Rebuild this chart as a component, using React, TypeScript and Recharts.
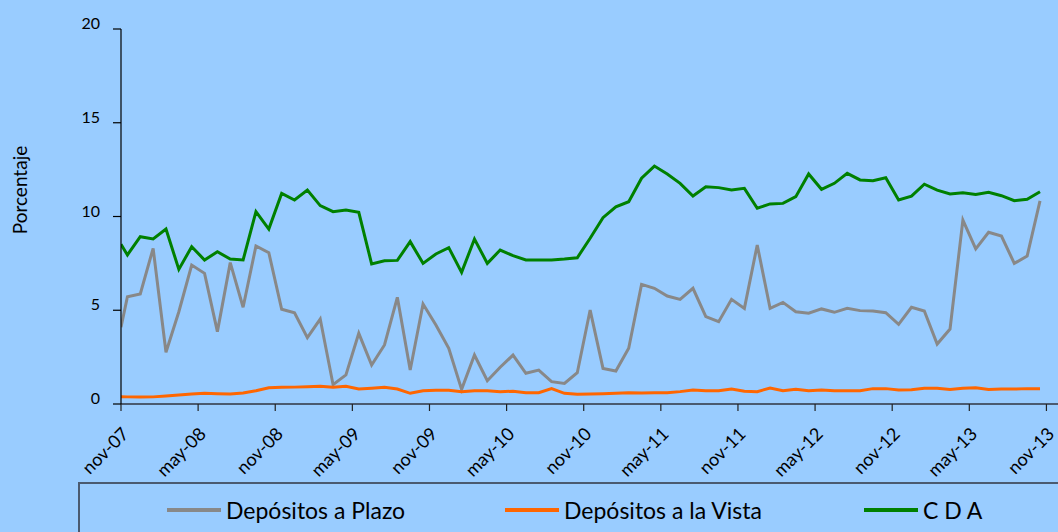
import React from "react";
import { LineChart, Line, XAxis, YAxis } from "recharts";

// Tasas mensuales (%), nov-07 a nov-13
const plazo = [
  4.1, 5.72, 5.87, 8.3, 2.76, 4.92, 7.41, 6.97, 3.86, 7.54, 5.16, 8.43, 8.07,
  5.05, 4.87, 3.54, 4.53, 1.03, 1.55, 3.77, 2.08, 3.15, 5.69, 1.81, 5.33, 4.21,
  2.97, 0.78, 2.61, 1.24, 1.96, 2.61, 1.64, 1.81, 1.19, 1.1, 1.67, 5.01, 1.9,
  1.76, 2.97, 6.38, 6.17, 5.76, 5.58, 6.17, 4.66, 4.39, 5.58, 5.1, 8.48, 5.1,
  5.42, 4.92, 4.84, 5.07, 4.89, 5.1, 4.98, 4.96, 4.87, 4.25, 5.16, 4.96, 3.2,
  4.0, 9.81, 8.27, 9.16, 8.96, 7.5, 7.89, 10.83,
];

const vista = [
  0.39, 0.38, 0.37, 0.38, 0.43, 0.48, 0.53, 0.57, 0.55, 0.53, 0.59, 0.71, 0.87,
  0.89, 0.9, 0.92, 0.94, 0.9, 0.94, 0.8, 0.84, 0.89, 0.8, 0.57, 0.71, 0.73,
  0.73, 0.66, 0.71, 0.71, 0.66, 0.68, 0.6, 0.6, 0.82, 0.57, 0.52, 0.53, 0.55,
  0.57, 0.6, 0.59, 0.6, 0.6, 0.66, 0.75, 0.71, 0.71, 0.8, 0.68, 0.66, 0.85,
  0.71, 0.78, 0.71, 0.75, 0.71, 0.71, 0.71, 0.82, 0.82, 0.75, 0.76, 0.84, 0.84,
  0.78, 0.84, 0.87, 0.78, 0.8, 0.8, 0.82, 0.82,
];

const cda = [
  8.52, 7.95, 8.92, 8.8, 9.33, 7.18, 8.39, 7.68, 8.12, 7.73, 7.68, 10.26, 9.33,
  11.23, 10.88, 11.41, 10.58, 10.26, 10.35, 10.22, 7.47, 7.64, 7.66, 8.66, 7.5,
  8.0, 8.34, 7.02, 8.8, 7.5, 8.21, 7.91, 7.68, 7.68, 7.68, 7.73, 7.8, 8.84,
  9.94, 10.52, 10.79, 12.04, 12.69, 12.27, 11.77, 11.09, 11.59, 11.54, 11.41,
  11.5, 10.44, 10.67, 10.7, 11.06, 12.27, 11.45, 11.77, 12.3, 11.95, 11.91,
  12.07, 10.88, 11.09, 11.72, 11.41, 11.2, 11.27, 11.18, 11.29, 11.11, 10.84,
  10.92, 11.32,
];

const tickLabels = [
  "nov-07", "may-08", "nov-08", "may-09", "nov-09", "may-10", "nov-10",
  "may-11", "nov-11", "may-12", "nov-12", "may-13", "nov-13",
];
const xTicks = [0, 6, 12, 18, 24, 30, 36, 42, 48, 54, 60, 66, 72];
const yTicks = [0, 5, 10, 15, 20];

const series = [
  { key: "plazo", name: "Depósitos a Plazo", color: "#888888" },
  { key: "vista", name: "Depósitos a la Vista", color: "#FF6600" },
  { key: "cda", name: "C D A", color: "#008000" },
];

// first observation sits on the axis, the rest mid-month
const data = plazo.map((v, i) => ({
  t: i === 0 ? 0 : i - 0.5,
  plazo: v,
  vista: vista[i],
  cda: cda[i],
}));

const FONT = "Lato, 'Open Sans', sans-serif";

const XTick = (props: any) => {
  const { x, y, payload } = props;
  const idx = xTicks.indexOf(payload.value);
  const ax = x + 9;
  const ay = y + 22;
  return (
    <text
      x={ax}
      y={ay}
      transform={`rotate(-45, ${ax}, ${ay})`}
      textAnchor="end"
      fontSize={18}
      fontFamily={FONT}
      fill="#000"
    >
      {tickLabels[idx]}
    </text>
  );
};

const YTick = (props: any) => {
  const { x, y, payload } = props;
  return (
    <text x={x} y={y} textAnchor="end" fontSize={16} fontFamily={FONT} fill="#000">
      {payload.value}
    </text>
  );
};

export default function App() {
  const legendLefts = [167, 505, 864];
  return (
    <div
      style={{
        position: "absolute",
        left: 0,
        top: 0,
        width: 1058,
        height: 532,
        background: "#99CCFF",
        overflow: "hidden",
      }}
    >
      <LineChart
        width={1058}
        height={532}
        data={data}
        margin={{ top: 29, right: 0, bottom: 0, left: 0 }}
      >
        <XAxis
          dataKey="t"
          type="number"
          domain={[0, 72.9]}
          ticks={xTicks}
          allowDataOverflow
          height={128}
          tick={<XTick />}
          tickSize={7}
          axisLine={{ stroke: "#4a5a70", strokeWidth: 2 }}
          tickLine={{ stroke: "#222", strokeWidth: 1.2 }}
        />
        <YAxis
          type="number"
          domain={[0, 20]}
          ticks={yTicks}
          width={121}
          tick={<YTick />}
          tickSize={8}
          tickMargin={13}
          axisLine={{ stroke: "#000", strokeWidth: 1.2 }}
          tickLine={{ stroke: "#000", strokeWidth: 1.2 }}
          label={{
            content: () => (
              <text
                x={27}
                y={190}
                transform="rotate(-90, 27, 190)"
                textAnchor="middle"
                fontSize={19}
                fontFamily={FONT}
                fill="#000"
              >
                Porcentaje
              </text>
            ),
          }}
        />
        {series.map((s) => (
          <Line
            key={s.key}
            dataKey={s.key}
            name={s.name}
            type="linear"
            stroke={s.color}
            strokeWidth={3}
            dot={false}
            activeDot={false}
            isAnimationActive={false}
          />
        ))}
      </LineChart>
      <div
        style={{
          position: "absolute",
          left: 78,
          top: 482,
          width: 1100,
          height: 100,
          borderTop: "2px solid #4a5a70",
          borderLeft: "2px solid #4a5a70",
          fontFamily: FONT,
          fontSize: 23,
          color: "#000",
        }}
      >
        {series.map((s, i) => (
          <div
            key={s.key}
            style={{
              position: "absolute",
              left: legendLefts[i] - 80,
              top: 12,
              display: "flex",
              alignItems: "center",
              whiteSpace: "nowrap",
            }}
          >
            <span
              style={{
                display: "inline-block",
                width: 54,
                height: 4,
                background: s.color,
                marginRight: 5,
              }}
            />
            <span>{s.name}</span>
          </div>
        ))}
      </div>
    </div>
  );
}
